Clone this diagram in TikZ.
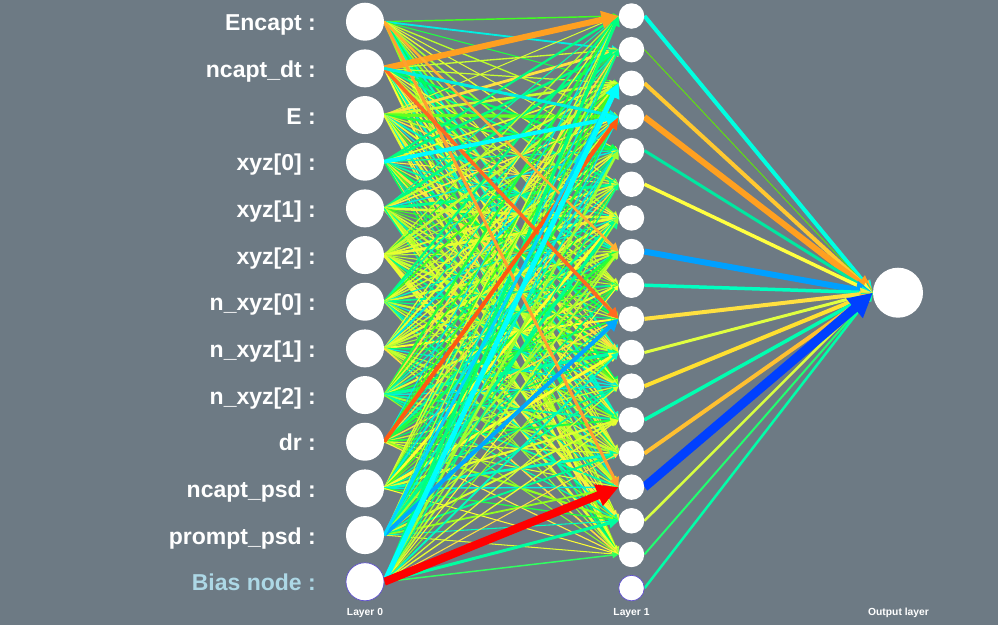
\documentclass[tikz,border=0pt]{standalone}
\usepackage{fontspec}
\setmainfont{Liberation Sans}
\usetikzlibrary{arrows.meta}
\pgfdeclarelayer{bg}
\pgfsetlayers{bg,main}
\definecolor{bgc}{RGB}{109,122,132}
\definecolor{biasblue}{RGB}{96,80,208}
\definecolor{biaslab}{HTML}{ADD8E6}
% palette for the weight-coloured connectors
\definecolor{wc1}{HTML}{20FF40}
\definecolor{wc2}{HTML}{00FF60}
\definecolor{wc3}{HTML}{40FF20}
\definecolor{wc4}{HTML}{00FF80}
\definecolor{wc5}{HTML}{A0FF30}
\definecolor{wc6}{HTML}{C8FF30}
\definecolor{wc7}{HTML}{D8FF30}
\definecolor{wc8}{HTML}{90FF20}
\definecolor{wc9}{HTML}{B8FF28}
\definecolor{wc10}{HTML}{FFFF30}
\definecolor{wc11}{HTML}{FFF040}
\definecolor{wc12}{HTML}{E8FF30}
\definecolor{wc13}{HTML}{00FFA8}
\definecolor{wc14}{HTML}{00FFC0}
\definecolor{wc15}{HTML}{00FF90}
\definecolor{wc16}{HTML}{00F0E0}
\definecolor{wc17}{HTML}{FFE040}
\definecolor{wc18}{HTML}{C0FF30}
\definecolor{wc19}{HTML}{60FF20}
\definecolor{wc20}{HTML}{E0FF30}
\newcommand\markspecial[2]{\expandafter\gdef\csname skipedge-#1-#2\endcsname{}}
\def\speclist{1/0/FFA020/6, 0/14/FFA030/3, 0/7/FFB030/2.5, 1/9/FF6A20/3.5, 9/3/FF5A10/4, 1/3/00F0E0/3, 3/3/00FFFF/4, 11/9/00A8FF/4, 11/2/00D8FF/3, 12/2/00FFFF/5, 12/15/00FFA0/3, 12/16/30FF60/1.5, 12/14/FF0000/8}
\def\outlist{0/00FFE0/4, 1/60E010/1, 2/FFC830/4, 3/FFA020/6, 4/00E8A0/3, 5/FFFF40/3.5, 7/00A0FF/6, 8/00FFC0/3.5, 9/FFE040/4, 10/E0FF40/3, 11/FFE030/4, 12/00FFB0/3.5, 13/FFC030/4, 15/D8FF40/2.5, 16/20FF70/2, 17/00FFA8/2.5, 14/0040FF/9}
\begin{document}
\begin{tikzpicture}[x=1pt,y=-1pt,
  inp/.style={circle,fill=white,minimum size=38pt,inner sep=0pt},
  hid/.style={circle,fill=white,minimum size=25.5pt,inner sep=0pt},
  outn/.style={circle,fill=white,minimum size=50pt,inner sep=0pt},
  biasn/.style={draw=biasblue,line width=0.7pt},
  lab/.style={anchor=base east,inner sep=0pt,text=white,font=\fontsize{23}{26}\selectfont\bfseries},
  lay/.style={anchor=base,inner sep=0pt,text=white,font=\fontsize{10.3}{12}\selectfont\bfseries},
  wedge/.style={line width=#1,-{Triangle[length=2.5pt 2.4,width=2.5pt 2.4]}}]
\begin{pgfonlayer}{bg}
\fill[bgc] (0,0) rectangle (998,625);
\end{pgfonlayer}
\useasboundingbox (0,0) rectangle (998,625);
% input layer
\foreach \k in {0,...,11}{\node[inp] (in\k) at (365,{21.7+46.67*\k}) {};}
\node[inp,biasn] (in12) at (365,{21.7+46.67*12}) {};
\foreach \k/\t in {0/Encapt :,1/ncapt\_dt :,2/E :,3/xyz[0] :,4/xyz[1] :,5/xyz[2] :,6/n\_xyz[0] :,7/n\_xyz[1] :,8/n\_xyz[2] :,9/dr :,10/ncapt\_psd :,11/prompt\_psd :}{
  \node[lab] (lab\k) at (316,{30.7+46.67*\k}) {\t};}
\node[lab,text=biaslab] (lab12) at (316,{30.7+46.67*12}) {Bias node :};
% hidden layer
\foreach \k in {0,...,16}{\node[hid] (h\k) at (631.5,{16+33.65*\k}) {};}
\node[hid,biasn] (h17) at (631.5,{16+33.65*17}) {};
% output
\node[outn] (out) at (898,292.7) {};
% layer captions
\node[lay] (cap0) at (365,615.7) {Layer 0};
\node[lay] (cap1) at (631.5,615.7) {Layer 1};
\node[lay] (cap2) at (898.5,615.7) {Output layer};
% connectors
\begin{pgfonlayer}{bg}
\foreach \a/\b/\c/\d in \speclist {\markspecial{\a}{\b}}
\pgfmathsetseed{4242}
\foreach \i in {0,...,12}{
  \foreach \j in {0,...,16}{
    \pgfmathrandominteger{\c}{1}{20}
    \pgfmathsetmacro{\w}{1.0+2.6*rnd*rnd}
    \ifcsname skipedge-\i-\j\endcsname\else
      \draw[wedge=\w pt,color=wc\c] (in\i.east) -- (h\j.west);
    \fi
  }
}
\foreach \a/\b/\c/\d in \speclist {
  \definecolor{tmpc}{HTML}{\c}
  \draw[wedge=\d pt,color=tmpc] (in\a.east) -- (h\b.west);
}
\foreach \a/\c/\d in \outlist {
  \definecolor{tmpc}{HTML}{\c}
  \draw[wedge=\d pt,color=tmpc] (h\a.east) -- (out.west);
}
\end{pgfonlayer}
\end{tikzpicture}
\end{document}
